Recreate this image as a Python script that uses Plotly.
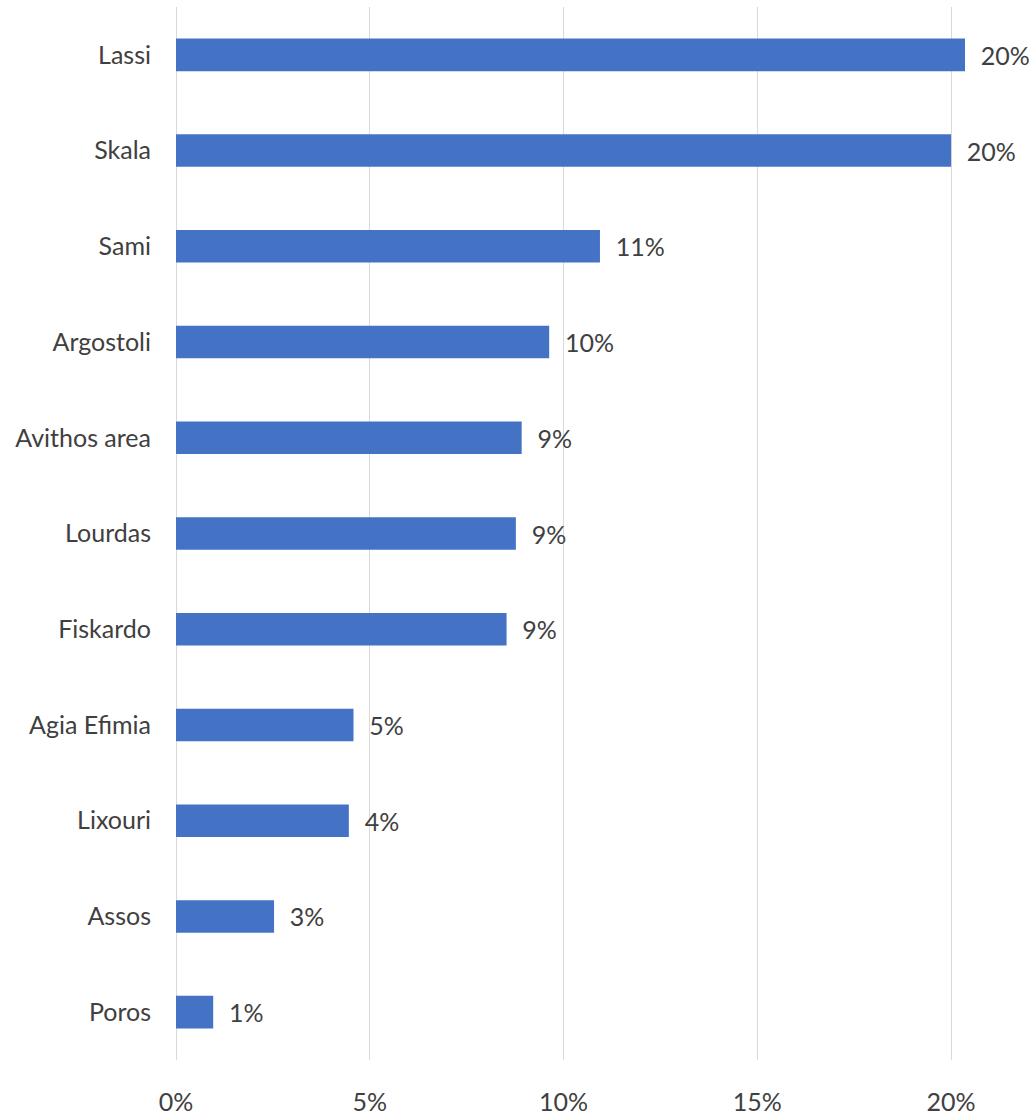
import plotly.graph_objects as go

# Share of responses by location (fraction of total)
locations = ["Lassi", "Skala", "Sami", "Argostoli", "Avithos area", "Lourdas",
             "Fiskardo", "Agia Efimia", "Lixouri", "Assos", "Poros"]
shares = [0.2036, 0.2000, 0.1094, 0.0963, 0.0892, 0.0877,
          0.0853, 0.0458, 0.0446, 0.0253, 0.0096]

x_ticks = [0, 0.05, 0.10, 0.15, 0.20]
x_tick_labels = ["0%", "5%", "10%", "15%", "20%"]

FONT = "Lato, 'Open Sans', sans-serif"
TEXT_COLOR = "#404040"
GRID_COLOR = "#D9D9D9"

fig = go.Figure(
    go.Bar(
        x=shares,
        y=locations,
        orientation="h",
        marker=dict(color="#4472C4", line=dict(width=0)),
        width=0.34,
        texttemplate="  %{x:.0%}",
        textposition="outside",
        cliponaxis=False,
        textfont=dict(family=FONT, size=25, color=TEXT_COLOR),
        hoverinfo="skip",
    )
)

fig.update_layout(
    width=1034,
    height=1116,
    margin=dict(l=176, r=0, t=7, b=54),
    paper_bgcolor="white",
    plot_bgcolor="white",
    showlegend=False,
    font=dict(family=FONT, size=25, color=TEXT_COLOR),
    xaxis=dict(
        range=[0, 0.2214],
        tickvals=x_ticks,
        ticktext=x_tick_labels,
        showgrid=True,
        gridcolor=GRID_COLOR,
        gridwidth=1,
        zeroline=True,
        zerolinecolor=GRID_COLOR,
        zerolinewidth=1,
        showline=False,
        ticks="",
        ticklabelstandoff=25,
        tickfont=dict(family=FONT, size=25, color=TEXT_COLOR),
    ),
    yaxis=dict(
        categoryorder="array",
        categoryarray=locations[::-1],
        showgrid=False,
        zeroline=False,
        showline=False,
        ticks="",
        ticklabelstandoff=24,
        tickfont=dict(family=FONT, size=25, color=TEXT_COLOR),
    ),
)

fig.write_html("out.html")
